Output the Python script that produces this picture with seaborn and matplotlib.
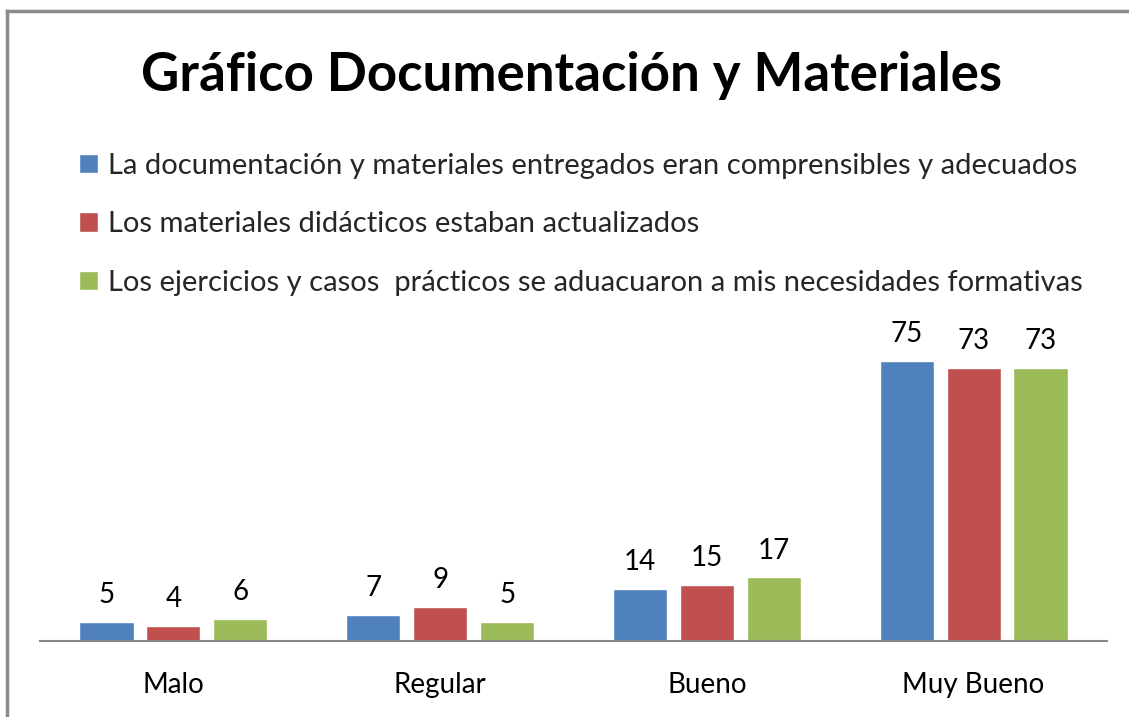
import matplotlib
matplotlib.use("Agg")
import matplotlib.pyplot as plt
import seaborn as sns
import pandas as pd
from matplotlib.lines import Line2D

categories = ["Malo", "Regular", "Bueno", "Muy Bueno"]
series_names = [
    "La documentación y materiales entregados eran comprensibles y adecuados",
    "Los materiales didácticos estaban actualizados",
    "Los ejercicios y casos  prácticos se aduacuaron a mis necesidades formativas",
]
values_doc = [5, 7, 14, 75]
values_mat = [4, 9, 15, 73]
values_ej = [6, 5, 17, 73]
colors = ["#4F81BD", "#C0504D", "#9BBB59"]
title = "Gráfico Documentación y Materiales"

rows = []
for name, vals in zip(series_names, [values_doc, values_mat, values_ej]):
    for c, v in zip(categories, vals):
        rows.append({"cat": c, "serie": name, "val": v})
df = pd.DataFrame(rows)

sns.set_theme(style="white")
plt.rcParams["font.family"] = ["Lato", "DejaVu Sans"]

fig = plt.figure(figsize=(11.29, 7.17), dpi=100)
fig.patch.set_facecolor("white")
ax = fig.add_axes([40 / 1129, 76 / 717, 1067 / 1129, 299 / 717])

sns.barplot(data=df, x="cat", y="val", hue="serie", order=categories,
            hue_order=series_names, palette=colors, width=0.753, gap=0.19,
            saturation=1, ax=ax, legend=True)

ax.set_xlim(-0.5, 3.5)
ax.set_ylim(0, 80)
for s in ["top", "right", "left"]:
    ax.spines[s].set_visible(False)
ax.spines["bottom"].set_color("#868686")
ax.spines["bottom"].set_linewidth(1.5)
ax.set_yticks([])
ax.set_xlabel("")
ax.set_ylabel("")
ax.tick_params(axis="x", length=0, pad=22, labelsize=20, colors="black")

for cont in ax.containers:
    ax.bar_label(cont, padding=10, fontsize=20, color="black")

handles, labels = ax.get_legend_handles_labels()
ax.get_legend().remove()
fig.legend(handles, labels, loc="upper left", bbox_to_anchor=(79 / 1129, 1 - 153 / 717),
           frameon=False, fontsize=21, labelspacing=1.11, handlelength=0.65,
           handleheight=0.65, handletextpad=0.35, borderaxespad=0, borderpad=0)

fig.text(572 / 1129, 1 - 76 / 717, title, ha="center", va="center",
         fontsize=38, fontweight="bold", color="black")

x0 = 6.5 / 1129
y0 = 1 - 11 / 717
fig.add_artist(Line2D([x0, x0], [0, y0], transform=fig.transFigure,
                      color="#8a8a8a", linewidth=2.5, solid_capstyle="projecting"))
fig.add_artist(Line2D([x0, 1.0], [y0, y0], transform=fig.transFigure,
                      color="#8a8a8a", linewidth=2.5, solid_capstyle="projecting"))

fig.savefig("out.png", dpi=100, facecolor="white")
